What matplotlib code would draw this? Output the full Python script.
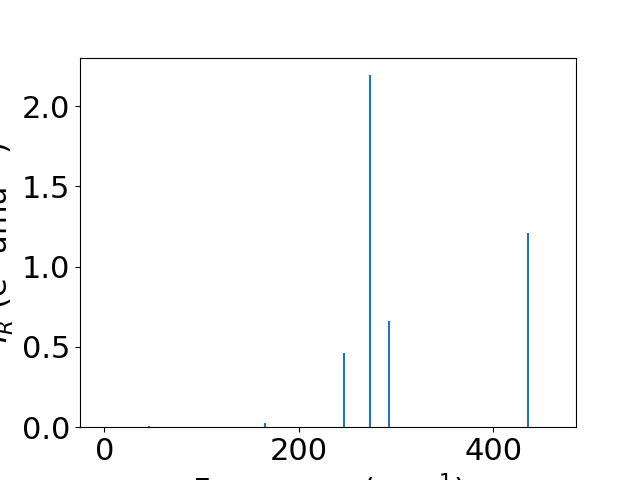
import matplotlib
matplotlib.use('Agg')
import matplotlib.pyplot as plt

## IR active modes: frequency (cm^-1) and intensity
freqs = [46, 165, 246.5, 273, 293, 435.5]
intensities = [0.006, 0.025, 0.461, 2.193, 0.660, 1.209]

fig, ax = plt.subplots(figsize=(6.4, 4.8), dpi=100)
ax.vlines(freqs, 0, intensities, color='tab:blue', linewidth=1.5)

## Labels
ax.set_xlabel('Frequency (cm$^{-1}$)', fontsize=22)
ax.set_ylabel('$I_R$ (e$^2$ amu$^{-1}$)', fontsize=22)
ax.tick_params(axis='both', which='major', labelsize=22)

## Axis ranges
ax.set_xlim(-25, 485)
ax.set_ylim(0, max(intensities) * 1.05)

plt.savefig('out.png')
